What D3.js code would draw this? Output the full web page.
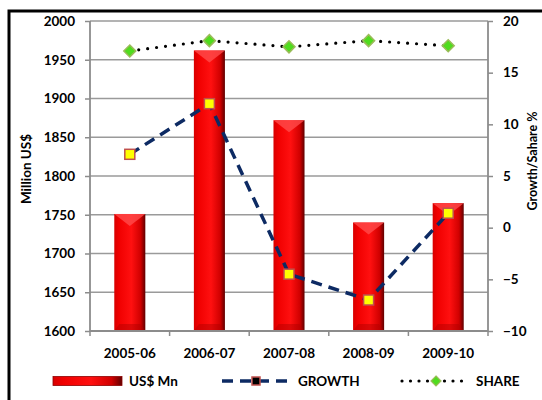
<!DOCTYPE html>
<html>
<head>
<meta charset="utf-8">
<script src="https://cdn.jsdelivr.net/npm/d3@7"></script>
<style>
  body { margin: 0; background: #fff; }
  text { font-family: Lato, "Open Sans", sans-serif; font-weight: bold; fill: #000; }
</style>
</head>
<body>
<div id="chart"></div>
<script>
// Data
const years = ["2005-06", "2006-07", "2007-08", "2008-09", "2009-10"];
const usdMn = [1751, 1962, 1872, 1740, 1765];
const growth = [7.1, 12.0, -4.5, -7.0, 1.4];
const share = [17.1, 18.1, 17.5, 18.1, 17.6];
const leftTicks = [1600, 1650, 1700, 1750, 1800, 1850, 1900, 1950, 2000];
const rightTicks = [-10, -5, 0, 5, 10, 15, 20];

// Chart setup
const width = 542;
const height = 400;
const margin = { top: 21, right: 54, bottom: 69, left: 90 };

const svg = d3.select('#chart')
  .append('svg')
  .attr('width', width)
  .attr('height', height);

const defs = svg.append('defs');

// bar shading, dark on the right edge
const barGrad = defs.append('linearGradient')
  .attr('id', 'barGrad')
  .attr('x1', 0).attr('x2', 1).attr('y1', 0).attr('y2', 0);
barGrad.append('stop').attr('offset', '0%').attr('stop-color', '#d80000');
barGrad.append('stop').attr('offset', '15%').attr('stop-color', '#f00000');
barGrad.append('stop').attr('offset', '55%').attr('stop-color', '#ff1010');
barGrad.append('stop').attr('offset', '85%').attr('stop-color', '#d00000');
barGrad.append('stop').attr('offset', '100%').attr('stop-color', '#600000');

// outer frame (runs off the right and bottom)
svg.append('rect')
  .attr('x', 9).attr('y', 11)
  .attr('width', 560).attr('height', 420)
  .attr('fill', 'none')
  .attr('stroke', '#000')
  .attr('stroke-width', 3);

// Scales
const x = d3.scaleBand()
  .domain(years)
  .range([margin.left, width - margin.right])
  .paddingInner(0.61)
  .paddingOuter(0.305);

const xBand = d3.scaleBand()
  .domain(years)
  .range([margin.left, width - margin.right])
  .padding(0);

const y = d3.scaleLinear()
  .domain([1600, 2000])
  .range([height - margin.bottom, margin.top]);

const y2 = d3.scaleLinear()
  .domain([-10, 20])
  .range([height - margin.bottom, margin.top]);

// Gridlines
svg.append('g')
  .selectAll('line')
  .data(leftTicks.slice(1))
  .enter().append('line')
  .attr('x1', margin.left)
  .attr('x2', width - margin.right)
  .attr('y1', d => y(d))
  .attr('y2', d => y(d))
  .attr('stroke', '#9a9a9a')
  .attr('stroke-width', 1.5);

// Bars
const bars = svg.append('g')
  .selectAll('g')
  .data(years)
  .enter().append('g');

bars.append('rect')
  .attr('x', d => x(d))
  .attr('y', (d, i) => y(usdMn[i]))
  .attr('width', x.bandwidth())
  .attr('height', (d, i) => y(1600) - y(usdMn[i]))
  .attr('fill', 'url(#barGrad)');

// bevel highlight at top
bars.append('path')
  .attr('d', (d, i) => {
    const x0 = x(d), w = x.bandwidth(), t = y(usdMn[i]);
    return `M${x0},${t} L${x0 + w},${t} L${x0 + w / 2},${t + 12} Z`;
  })
  .attr('fill', '#ff4b4b')
  .attr('opacity', 0.8);

// darker base
bars.append('path')
  .attr('d', d => {
    const x0 = x(d), w = x.bandwidth(), b = y(1600);
    return `M${x0},${b} L${x0 + 5},${b - 7} L${x0 + w - 5},${b - 7} L${x0 + w},${b} Z`;
  })
  .attr('fill', '#b00000')
  .attr('opacity', 0.45);

// Axes
const axisColor = '#8c8c8c';

const leftAxis = svg.append('g')
  .attr('transform', `translate(${margin.left},0)`)
  .call(d3.axisLeft(y).tickValues(leftTicks).tickFormat(d3.format('d')).tickSize(5).tickPadding(10));

const rightAxis = svg.append('g')
  .attr('transform', `translate(${width - margin.right},0)`)
  .call(d3.axisRight(y2).tickValues(rightTicks).tickFormat(d3.format('d')).tickSize(5).tickPadding(10));

const bottomAxis = svg.append('g')
  .attr('transform', `translate(0,${height - margin.bottom})`)
  .call(d3.axisBottom(xBand).tickSize(0).tickPadding(17));

// category boundary ticks
svg.append('g')
  .selectAll('line')
  .data(years.concat(['end']))
  .enter().append('line')
  .attr('x1', (d, i) => i < years.length ? xBand(d) : xBand(years[years.length - 1]) + xBand.bandwidth())
  .attr('x2', (d, i) => i < years.length ? xBand(d) : xBand(years[years.length - 1]) + xBand.bandwidth())
  .attr('y1', height - margin.bottom)
  .attr('y2', height - margin.bottom + 5)
  .attr('stroke', axisColor)
  .attr('stroke-width', 1.5);

[leftAxis, rightAxis, bottomAxis].forEach(a => {
  a.select('.domain').attr('stroke', axisColor).attr('stroke-width', 1.8);
  a.selectAll('.tick line').attr('stroke', axisColor).attr('stroke-width', 1.5);
  a.selectAll('.tick text')
    .style('font-size', '13.5px')
    .style('font-family', 'Lato, sans-serif')
    .style('font-weight', 'bold')
    .attr('fill', '#000');
});
leftAxis.select('.domain').attr('d', `M0,${y(2000)}V${y(1600)}`);
rightAxis.select('.domain').attr('d', `M0,${y2(20)}V${y2(-10)}`);
bottomAxis.select('.domain').attr('d', `M${margin.left},0H${width - margin.right}`);

// Axis titles
svg.append('text')
  .attr('transform', `translate(31,${(margin.top + height - margin.bottom) / 2 - 7}) rotate(-90)`)
  .attr('text-anchor', 'middle')
  .style('font-size', '13.5px')
  .text('Million US$');

svg.append('text')
  .attr('transform', `translate(537,${(margin.top + height - margin.bottom) / 2 - 15}) rotate(-90)`)
  .attr('text-anchor', 'middle')
  .style('font-size', '12.5px')
  .text('Growth/Sahare %');

// Lines
const cx = d => xBand(d) + xBand.bandwidth() / 2;

const growthLine = d3.line()
  .x((d, i) => cx(years[i]))
  .y(d => y2(d));

svg.append('path')
  .datum(growth)
  .attr('d', growthLine)
  .attr('fill', 'none')
  .attr('stroke', '#0d2a63')
  .attr('stroke-width', 3.5)
  .attr('stroke-dasharray', '11,7');

svg.append('path')
  .datum(share)
  .attr('d', growthLine)
  .attr('fill', 'none')
  .attr('stroke', '#000')
  .attr('stroke-width', 3.2)
  .attr('stroke-linecap', 'round')
  .attr('stroke-dasharray', '0,9');

// Markers
svg.append('g')
  .selectAll('rect')
  .data(growth)
  .enter().append('rect')
  .attr('x', (d, i) => cx(years[i]) - 5)
  .attr('y', d => y2(d) - 5)
  .attr('width', 10)
  .attr('height', 10)
  .attr('fill', '#ffff00')
  .attr('stroke', '#c0504d')
  .attr('stroke-width', 1.5);

svg.append('g')
  .selectAll('path')
  .data(share)
  .enter().append('path')
  .attr('d', (d, i) => {
    const px = cx(years[i]), py = y2(d), r = 6;
    return `M${px},${py - r} L${px + r},${py} L${px},${py + r} L${px - r},${py} Z`;
  })
  .attr('fill', '#4fdc1e')
  .attr('stroke', '#9bbb59')
  .attr('stroke-width', 1.5);

// Legend
const ly = 381;
const legend = svg.append('g');

legend.append('rect')
  .attr('x', 53).attr('y', ly - 4.5)
  .attr('width', 69).attr('height', 9)
  .attr('fill', 'url(#barGrad)');
legend.append('rect')
  .attr('x', 53).attr('y', ly - 4.5)
  .attr('width', 69).attr('height', 9)
  .attr('fill', 'none')
  .attr('stroke', '#900000')
  .attr('stroke-width', 0.8);
legend.append('text')
  .attr('x', 129).attr('y', ly + 5)
  .style('font-size', '13.5px')
  .text('US$ Mn');

legend.append('line')
  .attr('x1', 222).attr('x2', 287)
  .attr('y1', ly).attr('y2', ly)
  .attr('stroke', '#0d2a63')
  .attr('stroke-width', 3.5)
  .attr('stroke-dasharray', '11,7');
legend.append('rect')
  .attr('x', 252).attr('y', ly - 4)
  .attr('width', 8).attr('height', 8)
  .attr('fill', '#000')
  .attr('stroke', '#c0504d')
  .attr('stroke-width', 1.5);
legend.append('text')
  .attr('x', 298).attr('y', ly + 5)
  .style('font-size', '13.5px')
  .text('GROWTH');

legend.append('line')
  .attr('x1', 402).attr('x2', 467)
  .attr('y1', ly).attr('y2', ly)
  .attr('stroke', '#000')
  .attr('stroke-width', 3.2)
  .attr('stroke-linecap', 'round')
  .attr('stroke-dasharray', '0,8.5');
legend.append('path')
  .attr('d', `M436,${ly - 5} L441,${ly} L436,${ly + 5} L431,${ly} Z`)
  .attr('fill', '#4fdc1e')
  .attr('stroke', '#9bbb59')
  .attr('stroke-width', 1.2);
legend.append('text')
  .attr('x', 476).attr('y', ly + 5)
  .style('font-size', '13.5px')
  .text('SHARE');
</script>
</body>
</html>
